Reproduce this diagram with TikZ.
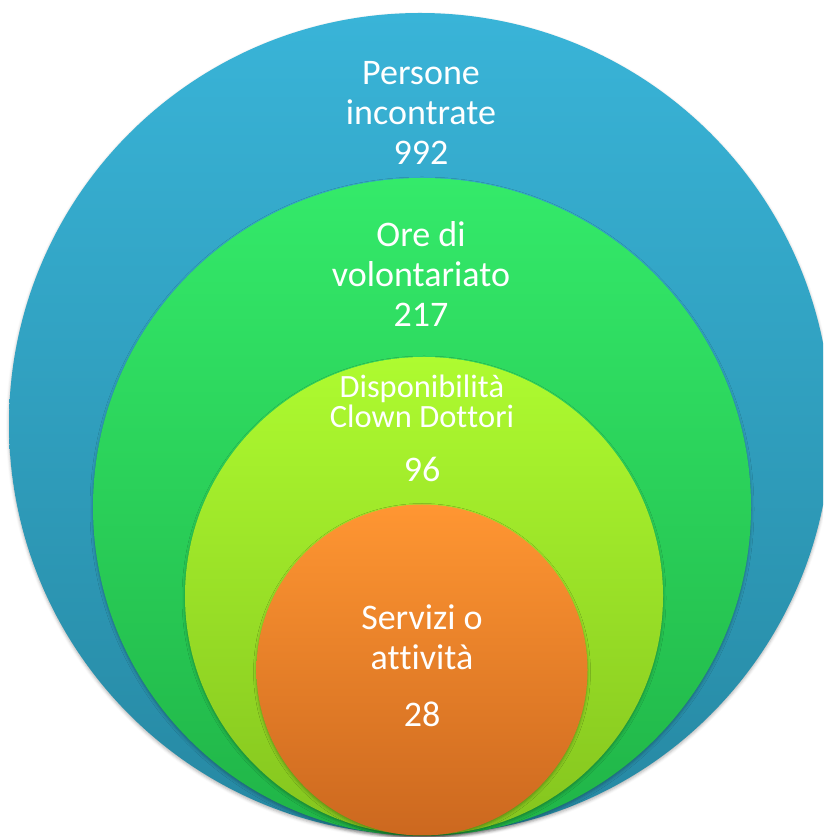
\documentclass[tikz,border=0pt]{standalone}
\usepackage{fontspec}
\setmainfont[Ligatures={NoCommon,NoContextual,NoRare}]{Carlito}
\usetikzlibrary{shadows.blur}
\definecolor{blueT}{HTML}{39B4D8}
\definecolor{blueB}{HTML}{2688A2}
\definecolor{greenT}{HTML}{34EA6A}
\definecolor{greenB}{HTML}{20B447}
\definecolor{limeT}{HTML}{AEFB30}
\definecolor{limeB}{HTML}{84C41E}
\definecolor{orT}{HTML}{FF9632}
\definecolor{orB}{HTML}{CC681F}
\newcommand{\nl}{\kern0pt}
\tikzset{
  ring/.style={circle, inner sep=0pt, minimum size=#1, blur shadow={shadow xshift=0pt, shadow yshift=-2pt, shadow blur radius=3pt, shadow opacity=30}},
  lbl/.style={anchor=base, inner sep=0pt, text=white, font=\fontsize{36}{40}\selectfont},
  lbls/.style={anchor=base, inner sep=0pt, text=white, font=\fontsize{32.5}{36}\selectfont}
}
\begin{document}
\begin{tikzpicture}[x=1pt,y=1pt]
\useasboundingbox (0,0) rectangle (823,837);
\clip (0,0) rectangle (823,837);
\node[ring=822pt, top color=blueT, bottom color=blueB] (blue) at (420,413) {};
\node[ring=658pt, top color=greenT, bottom color=greenB] (green) at (422,330) {};
\node[ring=478pt, top color=limeT, bottom color=limeB] (lime) at (424,241) {};
\node[ring=331pt, top color=orT, bottom color=orB] (orange) at (422,167) {};
% labels
\node[lbl] (p1) at (421,752) {Persone};
\node[lbl] (p2) at (421,712) {incontrate};
\node[lbl] (p3) at (421,672) {992};
\node[lbl] (o1) at (421,590) {Ore di};
\node[lbl] (o2) at (421,550) {volontariato};
\node[lbl] (o3) at (421,510) {217};
\node[lbls] (d1) at (422,439) {Disponibilit\nl à};
\node[lbls] (d2) at (422,409) {Clown Dot\nl t\nl ori};
\node[lbl] (d3) at (422,355) {96};
\node[lbl] (s1) at (422,207) {Servizi o};
\node[lbl] (s2) at (422,167) {at\nl t\nl ività};
\node[lbl] (s3) at (422,110) {28};
\end{tikzpicture}
\end{document}
